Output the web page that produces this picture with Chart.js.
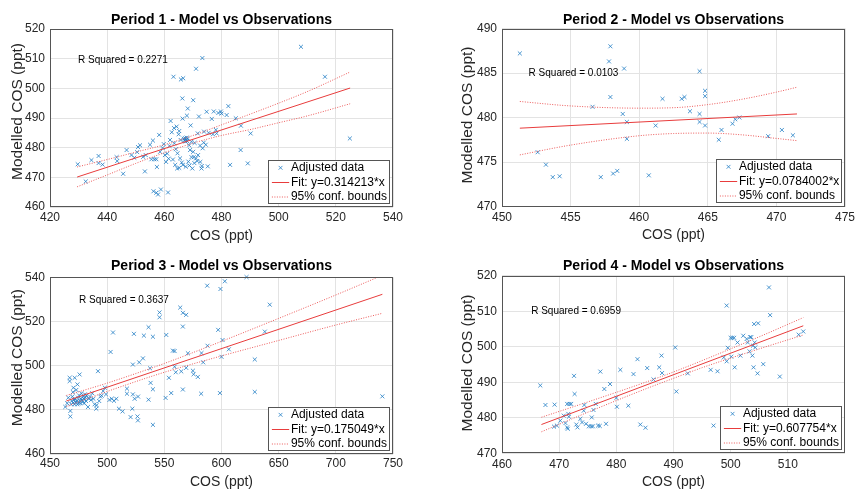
<!DOCTYPE html>
<html><head><meta charset="utf-8">
<script src="https://cdn.jsdelivr.net/npm/chart.js@4.4.0/dist/chart.umd.min.js"></script>
<style>
html,body{margin:0;padding:0;background:#fff;}
#wrap{position:relative;width:856px;height:491px;overflow:hidden;background:#fff;}
.pane{position:absolute;width:428px;}
canvas{display:block;}
</style></head><body>
<div id="wrap">
<div class="pane" style="left:0;top:0;height:245px"><canvas id="c1" width="428" height="245"></canvas></div>
<div class="pane" style="left:428px;top:0;height:245px"><canvas id="c2" width="428" height="245"></canvas></div>
<div class="pane" style="left:0;top:245px;height:246px"><canvas id="c3" width="428" height="246"></canvas></div>
<div class="pane" style="left:428px;top:245px;height:246px"><canvas id="c4" width="428" height="246"></canvas></div>
</div>
<script>
// ---------------- DATA ----------------
const titles = ['Period 1 - Model vs Observations','Period 2 - Model vs Observations','Period 3 - Model vs Observations','Period 4 - Model vs Observations'];
const rSquared = ['R Squared = 0.2271','R Squared = 0.0103','R Squared = 0.3637','R Squared = 0.6959'];
const fitLabels = ['Fit: y=0.314213*x','Fit: y=0.0784002*x','Fit: y=0.175049*x','Fit: y=0.607754*x'];
const xTitle = 'COS (ppt)';
const yTitle = 'Modelled COS (ppt)';

// tick labels
const xTicks1 = [420,440,460,480,500,520,540];
const yTicks1 = [460,470,480,490,500,510,520];
const xTicks2 = [450,455,460,465,470,475];
const yTicks2 = [470,475,480,485,490];
const xTicks3 = [450,500,550,600,650,700,750];
const yTicks3 = [460,480,500,520,540];
const xTicks4 = [460,470,480,490,500,510];
const yTicks4 = [470,480,490,500,510,520];

// observations (COS, modelled COS)
const period1Points = [[429.7,474.4],[432.5,468.6],[434.5,475.8],[437,477.2],[437,474.8],[438.4,474.3],[443.3,476.8],[443.5,475.5],[445.6,471.2],[446.8,479.2],[448.5,477.5],[449.5,476.6],[450.5,478.5],[450.8,480.2],[451.5,480.8],[452.6,476.9],[453.2,472],[453.5,477.5],[455,481],[455.5,476.1],[456,482.4],[456.5,476.1],[457.2,476.1],[457.4,473.5],[456.2,465.3],[457.2,464.8],[457.8,464.2],[458.8,465.9],[461.3,464.9],[458.2,484.3],[458.5,478.6],[459.4,479.9],[459.8,481.2],[460.2,477.5],[460.6,475.2],[461,478],[461.5,476.3],[461.8,480.6],[462,482.6],[462.2,489],[462.6,485.2],[463.4,486.6],[463.2,503.9],[464.3,487.1],[464.6,478.1],[465,484.5],[465.2,485.6],[465.5,476.4],[465.2,473.2],[465.7,482.6],[465.8,503],[466.1,475],[466.3,496.6],[466.6,503.4],[466.4,489.8],[466.8,483],[467,482.4],[467.2,483.2],[467.4,482.1],[467.6,482.8],[467.8,483.4],[468,482.2],[468.2,483],[467.5,473.6],[467.9,490.8],[468.2,493.2],[468.4,475.3],[468.7,480.8],[469,479.2],[469.2,487.5],[469.5,476.8],[470.1,478.6],[470.1,496],[470.5,474.8],[471.1,476.4],[471.1,506.6],[471.5,475.5],[471.7,484.8],[472.1,490.5],[472.5,480.7],[473,473],[473.1,473.8],[473.4,479.8],[473.3,510.2],[473.9,485.4],[474.5,481],[474.8,492.1],[475.2,473.7],[475.5,485],[476.6,489.7],[477,484.5],[477.3,492.2],[478,486],[478.9,491.7],[479.8,492.2],[480,491.5],[481.8,491],[482.4,494],[478.3,484.8],[483,474.2],[485,489.9],[486.8,487.4],[486.7,479.2],[489.2,474.7],[490.2,484.8],[507.8,514],[516.2,503.9],[524.9,483.1],[463,476],[463.8,474.2],[464.5,473],[466.5,474.2],[468.8,474],[469.8,473],[470.3,476.8],[471.8,477.5],[472.6,475.2],[463.5,481.5],[464,479.5],[469.5,482],[470.6,481.6],[473.8,481.7]];

const period2Points = [[451.3,487.2],[452.6,476.1],[453.2,474.7],[453.7,473.3],[454.2,473.4],[456.6,481.2],[457.2,473.3],[457.8,486.3],[457.9,488.0],[457.9,482.3],[458.1,473.7],[458.4,474.0],[458.8,480.4],[458.9,485.5],[459.1,479.5],[459.1,477.6],[460.7,473.5],[461.2,479.1],[461.7,482.1],[463.1,482.1],[463.3,482.3],[463.7,480.7],[464.4,479.5],[464.4,480.4],[464.4,485.2],[464.8,482.4],[464.8,483.0],[464.8,479.1],[465.8,477.5],[466.0,478.6],[466.8,479.3],[467.0,479.8],[467.3,480.0],[469.4,477.9],[470.4,478.6],[471.2,478.0]];

const period3Points = [[463.4,481.3],[465,483],[466,485.5],[467.2,494.5],[467.2,493],[467.8,479.5],[467.8,477],[468.5,482.5],[469,484],[469.5,486],[470,488],[470.3,483.2],[470.5,490],[471,484.5],[471.6,494.5],[471.5,482.5],[472,485],[472.5,483.5],[473,489],[473.5,484],[474,482.5],[474,491.5],[474.5,485.5],[475,483],[475.5,486.5],[475.9,496],[476,484],[476.5,483],[477,485],[477.5,487.5],[478,484.5],[478.5,483.5],[479,486],[479.5,485],[480,483],[480.5,487],[481,485.5],[481.5,484],[482,486.5],[483.2,481.3],[484,485],[485,486],[486,484.5],[487,487.5],[488,485],[489,482.5],[490.5,480.5],[490.8,482.1],[492,497.5],[493,484],[494,486],[495.2,486.4],[496.5,488.5],[498,490],[499,487],[502,484.5],[504,485],[506,484.1],[508,485],[505.1,515],[503,506.2],[510.3,480.5],[513.5,479.3],[517.3,487.3],[517.3,489.6],[520.5,476.7],[522.5,487],[524,485],[522,480.5],[523.4,514.4],[522.5,500.5],[526.9,475.2],[526.5,477],[527,486],[528,501.5],[531.3,503.3],[532.1,513.6],[536.2,517.4],[538,492.2],[536.2,484.6],[537.5,498.8],[540,513.1],[540,489.3],[540,473.2],[545.8,524.1],[545.8,521.9],[551.7,513.9],[551.1,485.4],[554,494.5],[556,487.6],[557.5,506.8],[559,506.6],[559,499.5],[560,497],[563.9,526.3],[566.2,523.9],[569.1,523],[566.2,517.7],[570.6,505.6],[564.8,497.4],[569.1,499],[566.2,489.2],[575,497.7],[575.6,496.1],[579.3,494.9],[582.2,487.3],[587.5,536.2],[582.5,505.7],[587.8,509],[584,501.5],[599.1,534.7],[602.9,538.2],[621.9,540.1],[642.2,527.6],[597.1,516.2],[600.9,511.6],[637.9,515.4],[606.4,507.4],[600,504],[629.1,502.8],[598.6,487.6],[629.1,488.1],[740.7,486.1]];

const period4Points = [[466.7,489.1],[467.6,483.6],[469.2,483.7],[469.1,477.5],[469.6,477.8],[470.2,479.2],[470.8,480.6],[471.1,478.5],[471.4,477.3],[471.5,476.9],[471.4,483.9],[471.8,483.9],[472.1,483.9],[471.6,481.1],[471.7,480.3],[472.6,491.8],[472.7,486.7],[473,478.1],[473.2,477.3],[473.7,479.7],[474,478.7],[474.3,482],[474.4,483.6],[474.7,478.3],[475.2,477.6],[475.6,477.6],[475.9,477.6],[475.7,480.1],[476,482.2],[476.4,483.9],[476.8,477.8],[477.1,477.7],[477.2,493],[477.9,488.1],[478.2,478.3],[478.9,489.5],[480,485.6],[480.1,483.1],[480.7,493.5],[482.1,483.4],[483,492.3],[483.7,496.5],[484.2,478.1],[485.1,477.2],[485.4,494],[486.5,490.8],[487.5,494.2],[487.9,497.5],[488,492.6],[490.3,499.8],[490.5,487.4],[492.5,492.5],[496.5,493.5],[497,477.8],[497.7,493.1],[498.8,497],[499.3,511.6],[499.5,499.7],[500,502.5],[500.3,502.5],[500.6,502.5],[499.3,495.9],[500.1,497.2],[500.7,494.2],[501.2,501.2],[501.7,497.5],[502.2,503.1],[502.8,502.2],[503,501.2],[503.4,502.7],[503.6,502.7],[503.9,500.3],[503.3,498.7],[503.8,497.5],[504.1,506.4],[504.8,506.6],[504.2,501.2],[504.3,499.8],[504,494.2],[504.7,492.5],[505.7,495.1],[506.7,516.7],[506.9,508.9],[508.6,491.6],[511.9,503.4],[512.7,504.3]];

// fitted lines (endpoints)
const fit1X = [429.5, 525], fit1Y = [470.1, 500.1];
const fit2X = [451.3, 471.5], fit2Y = [478.8, 480.4];
const fit3X = [464.3, 740.7], fit3Y = [484.0, 532.3];
const fit4X = [466.9, 512.7], fit4Y = [478.1, 505.9];

// 95% confidence bounds
const bound1X = [429.5, 440, 450, 460, 470, 480, 490, 500, 510, 525];
const upper1 = [473.5, 476.0, 478.5, 481.0, 484.1, 487.7, 491.3, 495.0, 498.9, 505.5];
const lower1 = [466.8, 470.8, 474.7, 478.3, 481.5, 484.1, 486.1, 488.4, 490.7, 494.8];
const bound2X = [451.3, 455, 460, 462.5, 465, 467.5, 470, 471.5];
const upper2 = [481.8, 481.3, 481.05, 481.1, 481.45, 482.05, 482.85, 483.4];
const lower2 = [475.8, 476.9, 477.95, 478.2, 478.25, 478.05, 477.65, 477.4];
const bound3X = [464.3, 500, 550, 600, 650, 700, 740.7];
const upper3 = [486.5, 492.1, 501.0, 511.0, 521.4, 532.0, 540.9];
const lower3 = [481.5, 488.3, 497.0, 504.4, 511.4, 518.4, 523.7];
const bound4X = [466.9, 475, 485, 490, 495, 505, 512.7];
const upper4 = [480.15, 484.45, 489.95, 492.9, 496.1, 502.8, 508.2];
const lower4 = [476.05, 481.55, 488.05, 491.1, 494.1, 499.4, 503.3];

// ---------------- STYLE / LAYOUT ----------------
const FONT = '"Liberation Sans", Arial, Helvetica, sans-serif';
Chart.defaults.font.family = FONT;
const BLUE = '#1f7cc4', RED = '#e83c3c', RED_DOT = '#ec5a5a', GRID = '#e3e3e3', AXIS = '#555555';

const panels = [
  {id:'c1', W:428, H:245, L:50, R:393, T:29,   B:207,   tCy:20,   xtCy:218,   xTitleCy:236,   yTitleCx:17.5, yTitleShift:-6.5,
   xMin:420, xMax:540, yMin:460, yMax:520, xTicks:xTicks1, yTicks:yTicks1, pts:period1Points,
   fitX:fit1X, fitY:fit1Y, bX:bound1X, up:upper1, lo:lower1, r2At:[429.8,509.6]},
  {id:'c2', W:428, H:245, L:74, R:417, T:28.5, B:206.5, tCy:20,   xtCy:218,   xTitleCy:235,   yTitleCx:40, yTitleShift:-2.5,
   xMin:450, xMax:475, yMin:470, yMax:490, xTicks:xTicks2, yTicks:yTicks2, pts:period2Points,
   fitX:fit2X, fitY:fit2Y, bX:bound2X, up:upper2, lo:lower2, r2At:[451.94,485.0]},
  {id:'c3', W:428, H:246, L:50, R:393, T:32.3, B:209,   tCy:20.7, xtCy:219,   xTitleCy:237,   yTitleCx:17.5, yTitleShift:-8,
   xMin:450, xMax:750, yMin:460, yMax:540, xTicks:xTicks3, yTicks:yTicks3, pts:period3Points,
   fitX:fit3X, fitY:fit3Y, bX:bound3X, up:upper3, lo:lower3, r2At:[475.4,529.4]},
  {id:'c4', W:428, H:246, L:74, R:417, T:30.7, B:208.3, tCy:20.7, xtCy:219.5, xTitleCy:237.3, yTitleCx:40, yTitleShift:-1.5,
   xMin:460, xMax:520, yMin:470, yMax:520, xTicks:xTicks4, yTicks:yTicks4, pts:period4Points,
   fitX:fit4X, fitY:fit4Y, bX:bound4X, up:upper4, lo:lower4, r2At:[465.1,509.9]}
];

const decor = {
  id: 'decor',
  afterDatasetsDraw(chart, args, o) {
    const {ctx, chartArea: a, scales} = chart;
    const xs = scales.x, ys = scales.y;
    ctx.save();
    // axes box
    ctx.strokeStyle = AXIS; ctx.lineWidth = 1;
    const l = Math.round(a.left) + 0.5, t = Math.round(a.top) + 0.5;
    const r = Math.round(a.right) - 0.5, b = Math.round(a.bottom) - 0.5;
    ctx.strokeRect(l, t, r - l, b - t);
    // R squared annotation
    ctx.fillStyle = '#000'; ctx.font = '10px ' + FONT;
    ctx.textAlign = 'left'; ctx.textBaseline = 'middle';
    ctx.fillText(o.r2, xs.getPixelForValue(o.r2At[0]), ys.getPixelForValue(o.r2At[1]));
    // y axis title
    ctx.save();
    ctx.font = '15.5px ' + FONT; ctx.fillStyle = '#262626';
    ctx.textAlign = 'center'; ctx.textBaseline = 'middle';
    ctx.translate(o.yTitleCx, (a.top + a.bottom) / 2 + o.yTitleShift);
    ctx.rotate(-Math.PI / 2);
    ctx.fillText(o.yTitle, 0, 0);
    ctx.restore();
    // legend
    ctx.font = '12px ' + FONT;
    const labels = ['Adjusted data', o.fitLabel, '95% conf. bounds'];
    const tw = Math.max(...labels.map(s => ctx.measureText(s).width));
    const w = Math.round(22.4 + tw + 2.6), h = 43;
    const bx = Math.round(a.right - 4.5 - w) + 0.5, by = Math.round(a.bottom - 4.5 - h) + 0.5;
    ctx.fillStyle = '#fff'; ctx.fillRect(bx, by, w, h);
    ctx.strokeStyle = AXIS; ctx.lineWidth = 1; ctx.strokeRect(bx, by, w, h);
    const rows = [7.3, 22, 36.5];
    const s0 = bx + 3.4, s1 = bx + 20.7, sc = (s0 + s1) / 2;
    // marker
    ctx.strokeStyle = BLUE; ctx.lineWidth = 0.8;
    const m = 1.9, cy0 = by + rows[0];
    ctx.beginPath();
    ctx.moveTo(sc - m, cy0 - m); ctx.lineTo(sc + m, cy0 + m);
    ctx.moveTo(sc - m, cy0 + m); ctx.lineTo(sc + m, cy0 - m);
    ctx.stroke();
    // fit sample
    ctx.strokeStyle = RED; ctx.lineWidth = 1;
    ctx.beginPath(); ctx.moveTo(s0, by + rows[1]); ctx.lineTo(s1, by + rows[1]); ctx.stroke();
    // bounds sample
    ctx.strokeStyle = RED_DOT; ctx.setLineDash([1, 1.5]);
    ctx.beginPath(); ctx.moveTo(s0, by + rows[2]); ctx.lineTo(s1, by + rows[2]); ctx.stroke();
    ctx.setLineDash([]);
    ctx.fillStyle = '#000'; ctx.textAlign = 'left'; ctx.textBaseline = 'middle';
    labels.forEach((s, i) => ctx.fillText(s, bx + 22.4, by + rows[i]));
    ctx.restore();
  }
};

panels.forEach((p, i) => {
  const toXY = (xArr, yArr) => xArr.map((x, k) => ({x, y: yArr[k]}));
  const titleFont = {size: 14, weight: 'bold', family: FONT};
  const tPadTop = p.tCy - 8.4;
  const tPadBottom = p.T - tPadTop - 16.8;
  new Chart(document.getElementById(p.id), {
    type: 'scatter',
    data: {
      datasets: [
        {label: '95% conf. bounds', data: toXY(p.bX, p.up), showLine: true, borderColor: RED_DOT, borderWidth: 1,
         borderDash: [1, 1.5], pointRadius: 0, cubicInterpolationMode: 'monotone', order: 1},
        {label: '95% conf. bounds (lower)', data: toXY(p.bX, p.lo), showLine: true, borderColor: RED_DOT, borderWidth: 1,
         borderDash: [1, 1.5], pointRadius: 0, cubicInterpolationMode: 'monotone', order: 1},
        {label: fitLabels[i], data: toXY(p.fitX, p.fitY), showLine: true, borderColor: RED, borderWidth: 1,
         pointRadius: 0, order: 2},
        {label: 'Adjusted data', data: p.pts.map(d => ({x: d[0], y: d[1]})), showLine: false,
         pointStyle: 'crossRot', pointRadius: 2.8, borderColor: BLUE, backgroundColor: BLUE, pointBorderWidth: 0.8,
         clip: false, order: 3}
      ]
    },
    options: {
      responsive: false, animation: false, devicePixelRatio: 1,
      layout: {padding: {left: 0, top: 0, bottom: 0, right: p.W - p.R}},
      plugins: {
        legend: {display: false}, tooltip: {enabled: false},
        title: {display: true, text: titles[i], fullSize: false, color: '#000', font: titleFont,
                padding: {top: tPadTop, bottom: tPadBottom}},
        decor: {r2: rSquared[i], r2At: p.r2At, fitLabel: fitLabels[i], yTitle: yTitle,
                yTitleCx: p.yTitleCx, yTitleShift: p.yTitleShift}
      },
      scales: {
        x: {
          type: 'linear', position: 'bottom', min: p.xMin, max: p.xMax,
          afterBuildTicks: s => { s.ticks = p.xTicks.map(v => ({value: v})); },
          afterFit: s => { s.height = p.H - p.B; s.paddingLeft = 0; s.paddingRight = 0; },
          ticks: {color: '#262626', font: {size: 12}, padding: p.xtCy - p.B - 7.2, maxRotation: 0, autoSkip: false},
          grid: {color: GRID, drawTicks: false, lineWidth: 1},
          border: {display: false},
          title: {display: true, text: xTitle, color: '#262626', font: {size: 14},
                  padding: {top: 0, bottom: (p.H - p.xTitleCy) - 8.4}}
        },
        y: {
          type: 'linear', position: 'left', min: p.yMin, max: p.yMax,
          afterBuildTicks: s => { s.ticks = p.yTicks.map(v => ({value: v})); },
          afterFit: s => { s.width = p.L; s.paddingTop = 0; s.paddingBottom = 0; },
          ticks: {color: '#262626', font: {size: 12}, padding: 5, autoSkip: false},
          grid: {color: GRID, drawTicks: false, lineWidth: 1},
          border: {display: false},
          title: {display: false}
        }
      }
    },
    plugins: [decor]
  });
});
</script>
</body></html>
